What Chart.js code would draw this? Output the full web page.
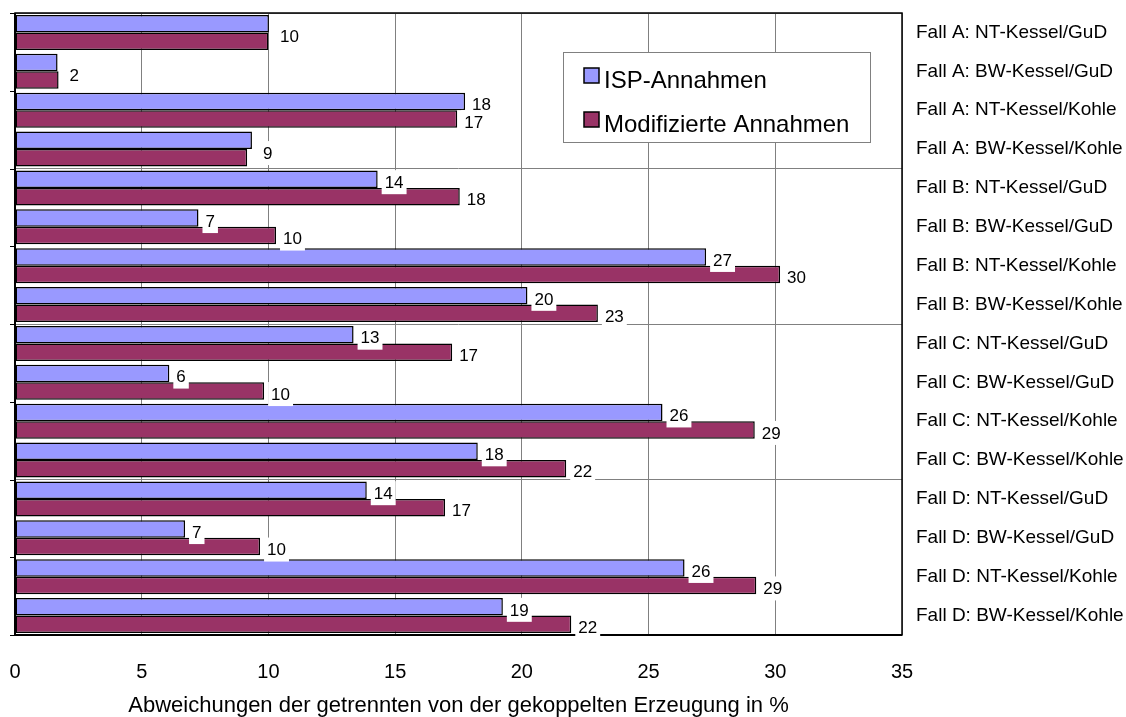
<!DOCTYPE html>
<html>
<head>
<meta charset="utf-8">
<script src="https://cdn.jsdelivr.net/npm/chart.js@4"></script>
<style>
  html, body { margin: 0; padding: 0; background: #ffffff; }
  #wrap { width: 1126px; height: 717px; position: relative; }
</style>
</head>
<body>
<div id="wrap"><canvas id="c" width="1126" height="717"></canvas></div>
<script>
const categories = [
  "Fall A: NT-Kessel/GuD", "Fall A: BW-Kessel/GuD", "Fall A: NT-Kessel/Kohle", "Fall A: BW-Kessel/Kohle",
  "Fall B: NT-Kessel/GuD", "Fall B: BW-Kessel/GuD", "Fall B: NT-Kessel/Kohle", "Fall B: BW-Kessel/Kohle",
  "Fall C: NT-Kessel/GuD", "Fall C: BW-Kessel/GuD", "Fall C: NT-Kessel/Kohle", "Fall C: BW-Kessel/Kohle",
  "Fall D: NT-Kessel/GuD", "Fall D: BW-Kessel/GuD", "Fall D: NT-Kessel/Kohle", "Fall D: BW-Kessel/Kohle"
];
const seriesNames = ["ISP-Annahmen", "Modifizierte Annahmen"];
const ispValues = [10.02, 1.68, 17.76, 9.35, 14.31, 7.24, 27.27, 20.22, 13.36, 6.09, 25.55, 18.26, 13.88, 6.71, 26.42, 19.25];
const modValues = [10.0, 1.72, 17.45, 9.16, 17.55, 10.3, 30.19, 23.0, 17.25, 9.83, 29.19, 21.75, 16.97, 9.67, 29.25, 21.95];
const xTicks = [0, 5, 10, 15, 20, 25, 30, 35];
const xTitle = "Abweichungen der getrennten von der gekoppelten Erzeugung in %";

const FONT = "'Liberation Sans', Arial, sans-serif";

const frame = {
  id: 'frame',
  beforeDatasetsDraw(chart) {
    const {ctx, chartArea: a} = chart;
    ctx.save();
    ctx.strokeStyle = '#000';
    ctx.lineWidth = 1.5;
    ctx.strokeRect(a.left, a.top, a.right - a.left, a.bottom - a.top);
    const n = categories.length;
    const h = (a.bottom - a.top) / n;
    ctx.lineWidth = 1;
    for (let i = 0; i <= n; i += 2) {
      const y = Math.round(a.top + i * h) + 0.5;
      ctx.beginPath();
      ctx.moveTo(a.left - 5, y);
      ctx.lineTo(a.left, y);
      ctx.stroke();
    }
    ctx.restore();
  },
  afterDatasetsDraw(chart) {
    const {ctx, chartArea: a} = chart;
    ctx.save();
    ctx.strokeStyle = '#000';
    ctx.lineWidth = 2;
    ctx.beginPath();
    ctx.moveTo(a.left, a.bottom);
    ctx.lineTo(a.right, a.bottom);
    ctx.moveTo(a.left, a.top);
    ctx.lineTo(a.left, a.bottom);
    ctx.stroke();
    ctx.restore();
  }
};

const dataLabels = {
  id: 'dataLabels',
  afterDatasetsDraw(chart) {
    const {ctx} = chart;
    const m0 = chart.getDatasetMeta(0).data;
    const m1 = chart.getDatasetMeta(1).data;
    ctx.save();
    ctx.font = '17px ' + FONT;
    ctx.textBaseline = 'middle';
    ctx.textAlign = 'left';
    const draw = (txt, x, y) => {
      const w = ctx.measureText(txt).width;
      ctx.fillStyle = '#fff';
      ctx.fillRect(x + 4, y - 12, w + 6, 24);
      ctx.fillStyle = '#000';
      ctx.fillText(txt, x + 7, y + 1);
    };
    const items = [];
    for (let i = 0; i < categories.length; i++) {
      const t0 = String(Math.round(ispValues[i]));
      const t1 = String(Math.round(modValues[i]));
      const b0 = m0[i], b1 = m1[i];
      if (t0 === t1) {
        items.push([t1, Math.max(b0.x, b1.x) + 4, (b0.y + b1.y) / 2 + 4]);
      } else {
        items.push([t0, b0.x, b0.y + 3]);
        items.push([t1, b1.x, b1.y + 3]);
      }
    }
    items.forEach(it => draw(it[0], it[1], it[2]));
    ctx.restore();
  }
};

const boxLegend = {
  id: 'boxLegend',
  afterDraw(chart) {
    const {ctx} = chart;
    const x = 563, y = 52, w = 307, h = 90;
    ctx.save();
    ctx.fillStyle = '#fff';
    ctx.fillRect(x, y, w, h);
    ctx.strokeStyle = '#808080';
    ctx.lineWidth = 1;
    ctx.strokeRect(x + 0.5, y + 0.5, w, h);
    ctx.font = '24px ' + FONT;
    ctx.textBaseline = 'alphabetic';
    chart.data.datasets.forEach((ds, i) => {
      const sy = y + 16 + i * 44;
      ctx.fillStyle = ds.backgroundColor;
      ctx.fillRect(x + 21, sy, 15, 15);
      ctx.strokeStyle = '#000';
      ctx.lineWidth = 1.5;
      ctx.strokeRect(x + 21, sy, 15, 15);
      ctx.fillStyle = '#000';
      ctx.fillText(ds.label, x + 41, sy + 20);
    });
    ctx.restore();
  }
};

new Chart(document.getElementById('c'), {
  type: 'bar',
  data: {
    labels: categories,
    datasets: [
      { label: seriesNames[0], data: ispValues, backgroundColor: '#9999FF', borderColor: '#000', borderWidth: 1.5, borderSkipped: false },
      { label: seriesNames[1], data: modValues, backgroundColor: '#993366', borderColor: '#000', borderWidth: 1.5, borderSkipped: false }
    ]
  },
  options: {
    indexAxis: 'y',
    responsive: false,
    animation: false,
    devicePixelRatio: 1,
    layout: { padding: { left: 15, top: 13, right: 0, bottom: 0 } },
    datasets: { bar: { categoryPercentage: 0.9, barPercentage: 1.0 } },
    plugins: { legend: { display: false }, tooltip: { enabled: false }, title: { display: false } },
    scales: {
      x: {
        type: 'linear',
        position: 'bottom',
        min: xTicks[0],
        max: xTicks[xTicks.length - 1],
        afterBuildTicks(scale) { scale.ticks = xTicks.map(v => ({ value: v })); },
        afterFit(scale) {
          scale.height = 82;
          scale.paddingLeft = 0; scale.paddingRight = 0; scale.paddingTop = 0; scale.paddingBottom = 0;
        },
        ticks: { color: '#000', font: { family: FONT, size: 20 }, padding: 25, maxRotation: 0 },
        grid: { color: '#808080', lineWidth: 1, drawTicks: false },
        border: { display: false },
        title: { display: true, text: xTitle, color: '#000', font: { family: FONT, size: 22, lineHeight: 1 }, padding: { top: 0, bottom: 0 } }
      },
      y: {
        type: 'category',
        position: 'right',
        afterFit(scale) {
          scale.width = 224;
          scale.paddingLeft = 0; scale.paddingRight = 0; scale.paddingTop = 0; scale.paddingBottom = 0;
        },
        ticks: { color: '#000', font: { family: FONT, size: 19 }, padding: 14, autoSkip: false, crossAlign: 'near' },
        grid: {
          drawTicks: false,
          lineWidth: 1,
          color: ctx => (ctx.index % 4 === 0 ? '#808080' : 'rgba(0,0,0,0)')
        },
        border: { display: false }
      }
    }
  },
  plugins: [frame, dataLabels, boxLegend]
});
</script>
</body>
</html>
